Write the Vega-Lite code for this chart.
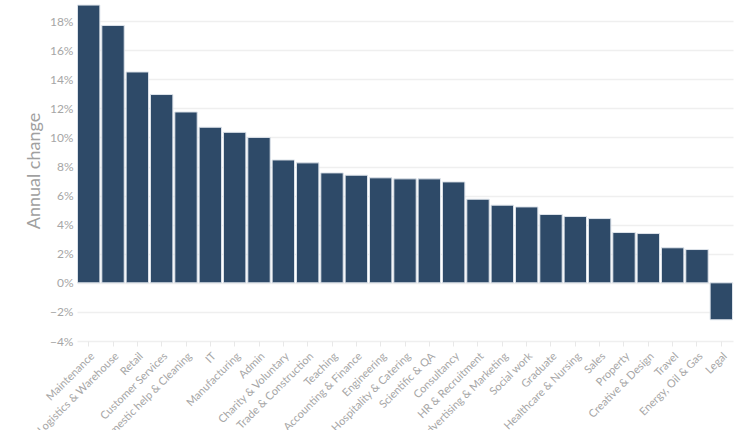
{
  "$schema": "https://vega.github.io/schema/vega-lite/v6.json",
  "autosize": "none",
  "width": 656,
  "height": 341,
  "padding": {"left": 77, "top": 0, "right": 17, "bottom": 89},
  "background": "white",
  "config": {
    "view": {"stroke": null},
    "font": "Lato",
    "axis": {"labelFont": "Lato", "titleFont": "Lato"}
  },
  "data": {
    "values": [
      {"sector": "Maintenance", "change": 0.191},
      {"sector": "Logistics & Warehouse", "change": 0.177},
      {"sector": "Retail", "change": 0.145},
      {"sector": "Customer Services", "change": 0.1295},
      {"sector": "Domestic help & Cleaning", "change": 0.1175},
      {"sector": "IT", "change": 0.107},
      {"sector": "Manufacturing", "change": 0.1035},
      {"sector": "Admin", "change": 0.100},
      {"sector": "Charity & Voluntary", "change": 0.0845},
      {"sector": "Trade & Construction", "change": 0.0825},
      {"sector": "Teaching", "change": 0.0756},
      {"sector": "Accounting & Finance", "change": 0.074},
      {"sector": "Engineering", "change": 0.0722},
      {"sector": "Hospitality & Catering", "change": 0.0715},
      {"sector": "Scientific & QA", "change": 0.0715},
      {"sector": "Consultancy", "change": 0.0694},
      {"sector": "HR & Recruitment", "change": 0.0575},
      {"sector": "Advertising & Marketing", "change": 0.0534},
      {"sector": "Social work", "change": 0.0522},
      {"sector": "Graduate", "change": 0.047},
      {"sector": "Healthcare & Nursing", "change": 0.0456},
      {"sector": "Sales", "change": 0.0442},
      {"sector": "Property", "change": 0.0346},
      {"sector": "Creative & Design", "change": 0.0339},
      {"sector": "Travel", "change": 0.0241},
      {"sector": "Energy, Oil & Gas", "change": 0.0229},
      {"sector": "Legal", "change": -0.0254}
    ]
  },
  "mark": {"type": "bar", "color": "#2e4a68", "stroke": "#dde3ea", "strokeWidth": 1},
  "encoding": {
    "x": {
      "field": "sector",
      "type": "nominal",
      "sort": null,
      "scale": {"paddingInner": 0.08, "paddingOuter": 0.02},
      "axis": {
        "title": null,
        "labelAngle": -45,
        "labelColor": "#a6a6a6",
        "labelFontSize": 11,
        "labelPadding": 4,
        "domain": false,
        "ticks": true,
        "tickColor": "#e8e8e8",
        "tickSize": 5,
        "labelOverlap": false
      }
    },
    "y": {
      "field": "change",
      "type": "quantitative",
      "scale": {"domain": [-0.04, 0.1945], "nice": false, "zero": false},
      "axis": {
        "title": "Annual change",
        "titleColor": "#a0a0a0",
        "titleFontSize": 18,
        "titleFontWeight": "normal",
        "titlePadding": 6,
        "format": ".0%",
        "values": [-0.04, -0.02, 0, 0.02, 0.04, 0.06, 0.08, 0.1, 0.12, 0.14, 0.16, 0.18],
        "labelColor": "#a6a6a6",
        "labelFontSize": 12,
        "labelPadding": 4,
        "domain": false,
        "ticks": false,
        "grid": true,
        "gridColor": "#efefef",
        "gridWidth": 1.5
      }
    }
  }
}
